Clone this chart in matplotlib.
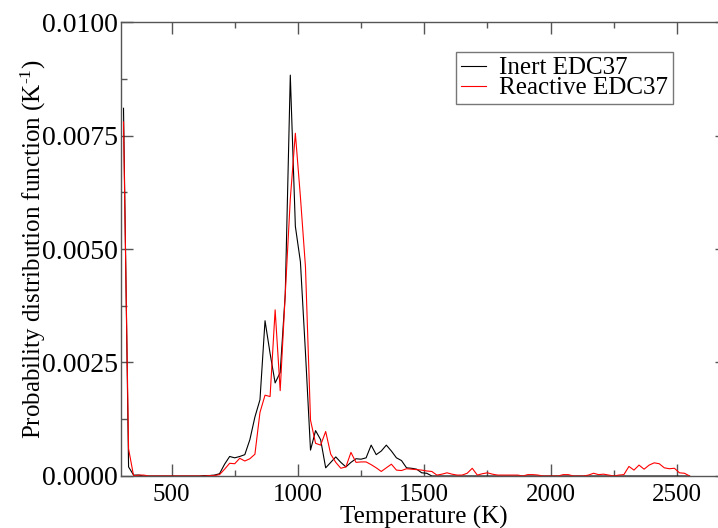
import numpy as np
import matplotlib
matplotlib.use("Agg")
import matplotlib.pyplot as plt
from matplotlib.ticker import MultipleLocator, FormatStrFormatter

plt.rcParams["font.family"] = ["Liberation Serif", "DejaVu Serif"]
plt.rcParams["mathtext.default"] = "regular"

# Temperature bin centres (K), 20 K wide bins
temperature = np.arange(310, 2570, 20)

# Probability density per bin, keyed by bin centre
inert_pdf = {
    310: 0.0081, 330: 0.0002, 350: 0.00002, 370: 0.00002,
    630: 0.00001, 650: 0.00001, 670: 0.00002, 690: 0.00005,
    710: 0.00026, 730: 0.00043, 750: 0.00040, 770: 0.00043, 790: 0.00047,
    810: 0.00080, 830: 0.00130, 850: 0.00168, 870: 0.00342, 890: 0.00270,
    910: 0.00205, 930: 0.00228, 950: 0.00400, 970: 0.00883, 990: 0.00550,
    1010: 0.00472, 1030: 0.00272, 1050: 0.00057, 1070: 0.00100, 1090: 0.00080,
    1110: 0.00018, 1130: 0.00030, 1150: 0.00042, 1170: 0.00030, 1190: 0.00020,
    1210: 0.00030, 1230: 0.00038, 1250: 0.00037, 1270: 0.00040, 1290: 0.00068,
    1310: 0.00047, 1330: 0.00055, 1350: 0.00068, 1370: 0.00055, 1390: 0.00040,
    1410: 0.00034, 1430: 0.00018, 1450: 0.00017, 1470: 0.00015, 1490: 0.00007,
    1510: 0.00006,
}
reactive_pdf = {
    310: 0.0078, 330: 0.0006, 370: 0.00002, 390: 0.00002,
    650: 0.00001, 670: 0.00001, 690: 0.00003,
    710: 0.00015, 730: 0.00028, 750: 0.00027, 770: 0.00039, 790: 0.00033,
    810: 0.00038, 830: 0.00048, 850: 0.00140, 870: 0.00178, 890: 0.00175,
    910: 0.00366, 930: 0.00188, 950: 0.00400, 970: 0.00610, 990: 0.00755,
    1010: 0.00615, 1030: 0.00461, 1050: 0.00123, 1070: 0.00072, 1090: 0.00068,
    1110: 0.00098, 1130: 0.00048, 1150: 0.00030, 1170: 0.00017, 1190: 0.00020,
    1210: 0.00052, 1230: 0.00030, 1250: 0.00031, 1270: 0.00031, 1290: 0.00025,
    1310: 0.00018, 1330: 0.00010, 1350: 0.00018, 1370: 0.00026, 1390: 0.00013,
    1410: 0.00012, 1430: 0.00016, 1450: 0.00015, 1470: 0.00014, 1490: 0.00013,
    1510: 0.00011, 1530: 0.00010, 1550: 0.00002, 1570: 0.00004, 1590: 0.00007,
    1610: 0.00004, 1630: 0.00002, 1650: 0.00002, 1670: 0.00006, 1690: 0.00017,
    1710: 0.00002, 1730: 0.00005, 1750: 0.00007, 1770: 0.00004, 1790: 0.00002,
    1810: 0.00002, 1830: 0.00002, 1850: 0.00002, 1870: 0.00002, 1910: 0.00003,
    1930: 0.00003, 1950: 0.00002, 2050: 0.00003, 2070: 0.00003, 2150: 0.00002,
    2170: 0.00006, 2190: 0.00003, 2210: 0.00004, 2230: 0.00002, 2270: 0.00002,
    2290: 0.00003, 2310: 0.00021, 2330: 0.00013, 2350: 0.00024, 2370: 0.00015,
    2390: 0.00024, 2410: 0.00029, 2430: 0.00027, 2450: 0.00018, 2470: 0.00016,
    2490: 0.00017, 2510: 0.00007, 2530: 0.00006,
}

labels = ["Inert EDC37", "Reactive EDC37"]
colors = ["black", "red"]

inert = np.array([inert_pdf.get(t, 0.0) for t in temperature])
reactive = np.array([reactive_pdf.get(t, 0.0) for t in temperature])

fig = plt.figure(figsize=(7.18, 5.28), dpi=100)
ax = fig.add_axes([0.1685, 0.0985, 0.8447, 0.8598])

ax.plot(temperature, inert, color=colors[0], lw=0.8, label=labels[0])
ax.plot(temperature, reactive, color=colors[1], lw=0.8, label=labels[1])

ax.set_xlim(300, 2700)
ax.set_ylim(0, 0.01)
ax.xaxis.set_major_locator(MultipleLocator(500))
ax.xaxis.set_minor_locator(MultipleLocator(250))
ax.yaxis.set_major_locator(MultipleLocator(0.0025))
ax.yaxis.set_minor_locator(MultipleLocator(0.00125))
ax.yaxis.set_major_formatter(FormatStrFormatter("%.4f"))

spine_col = "#555555"
for s in ax.spines.values():
    s.set_color(spine_col)
    s.set_linewidth(1.0)
ax.tick_params(which="both", direction="in", top=True, right=True,
               color=spine_col)
ax.tick_params(which="major", length=8.5, width=1.0)
ax.tick_params(which="minor", length=4.3, width=1.0)
ax.tick_params(axis="x", which="major", pad=6, labelsize=18)
ax.tick_params(axis="y", which="major", pad=2, labelsize=20)

ax.set_xlabel("Temperature (K)", fontsize=18, labelpad=0)
ax.set_ylabel("Probability distribution function (K$^{\u2010 1}$)", fontsize=18, labelpad=-4)

leg = ax.legend(loc="upper right", bbox_to_anchor=(0.910, 0.934), borderaxespad=0,
                fontsize=18, frameon=True, fancybox=False, handlelength=1.0,
                handletextpad=0.5, labelspacing=-0.1, borderpad=0.2)
leg.get_frame().set_edgecolor(spine_col)
leg.get_frame().set_linewidth(1.0)

fig.savefig("out.png", dpi=100)
